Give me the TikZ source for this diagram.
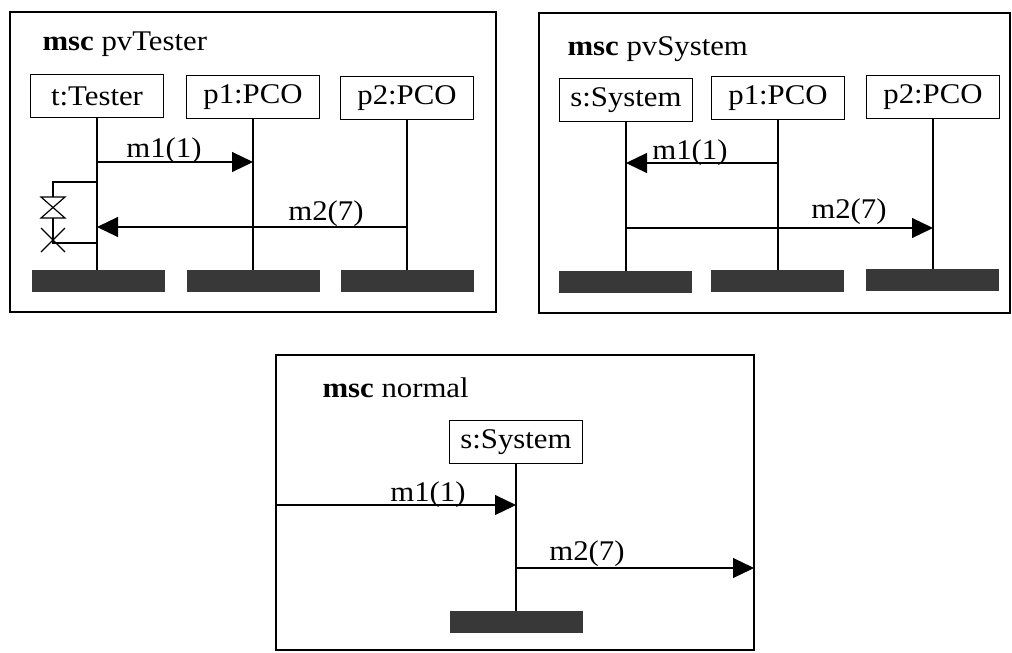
\documentclass[tikz,border=0pt]{standalone}
\usepackage{fontspec}
\setmainfont{Liberation Serif}[FakeStretch=1.08]
\usetikzlibrary{arrows.meta}

\tikzset{
  frame/.style={draw, line width=1.5pt},
  inst/.style={draw, line width=1.2pt, minimum width=133pt, minimum height=43pt, inner sep=0pt},
  stopbar/.style={fill=black!78, minimum width=133pt, minimum height=22pt, inner sep=0pt},
  life/.style={line width=1.2pt},
  msg/.style={line width=1.2pt, -{Triangle[length=21pt, width=20pt]}},
}

\begin{document}
\begin{tikzpicture}[x=1pt, y=-1pt, font=\fontsize{28.5}{33}\selectfont]
\useasboundingbox (0,0) rectangle (1012,653);

% msc pvTester
\draw[frame] (10,12) rectangle (496,312);
\node[anchor=base west] (ttl1) at (39,50) {\textbf{msc} pvTester};
\node[inst] (tt) at (97,96) {t:Tester};
\node[inst] (tp1) at (253,97) {p1:PCO};
\node[inst] (tp2) at (407,98) {p2:PCO};
\node[stopbar] (tb1) at (98,281) {};
\node[stopbar] (tb2) at (253,281) {};
\node[stopbar] (tb3) at (407,281) {};
\foreach \i/\b in {tt/tb1, tp1/tb2, tp2/tb3}
  \draw[life] (\i.south) -- (\i.south |- \b.north);
\draw[msg] (tt.south |- 0,162) -- (tp1.south |- 0,162);
\node[anchor=base] at (164,157) {m1(1)};
\draw[msg] (tp2.south |- 0,227) -- (tt.south |- 0,227);
\node[anchor=base] at (326,220) {m2(7)};
% timer
\coordinate (tm) at (53,197);
\draw[life] (tt.south |- 0,182) -- (53,182) -- (tm);
\draw[life] (41,197) -- (65,197) -- (41,218) -- (65,218) -- cycle;
\draw[life] (53,218) -- (53,243) -- (tt.south |- 0,243);
\draw[life] (41,228) -- (65,252) (65,228) -- (41,252);

% msc pvSystem
\draw[frame] (539,13) rectangle (1010,313);
\node[anchor=base west] (ttl2) at (564,55) {\textbf{msc} pvSystem};
\node[inst] (ss) at (626,100) {s:System};
\node[inst] (sp1) at (778,98) {p1:PCO};
\node[inst] (sp2) at (933,97) {p2:PCO};
\node[stopbar] (sb1) at (625,282) {};
\node[stopbar] (sb2) at (777,281) {};
\node[stopbar] (sb3) at (932,280) {};
\foreach \i/\b in {ss/sb1, sp1/sb2, sp2/sb3}
  \draw[life] (\i.south) -- (\i.south |- \b.north);
\draw[msg] (sp1.south |- 0,163) -- (ss.south |- 0,163);
\node[anchor=base] at (690,159) {m1(1)};
\draw[msg] (ss.south |- 0,228) -- (sp2.south |- 0,228);
\node[anchor=base] at (849,218) {m2(7)};

% msc normal
\draw[frame] (276,355) rectangle (754,650);
\node[anchor=base west] (ttl3) at (319,397) {\textbf{msc} normal};
\node[inst] (ns) at (516,442) {s:System};
\node[stopbar] (nb) at (516,622) {};
\draw[life] (ns.south) -- (nb.north);
\coordinate (nin) at (276,505);
\coordinate (nout) at (754,568);
\draw[msg] (nin) -- (ns.south |- nin);
\node[anchor=base] at (428,501) {m1(1)};
\draw[msg] (ns.south |- nout) -- (nout);
\node[anchor=base] at (587,560) {m2(7)};
\end{tikzpicture}
\end{document}
